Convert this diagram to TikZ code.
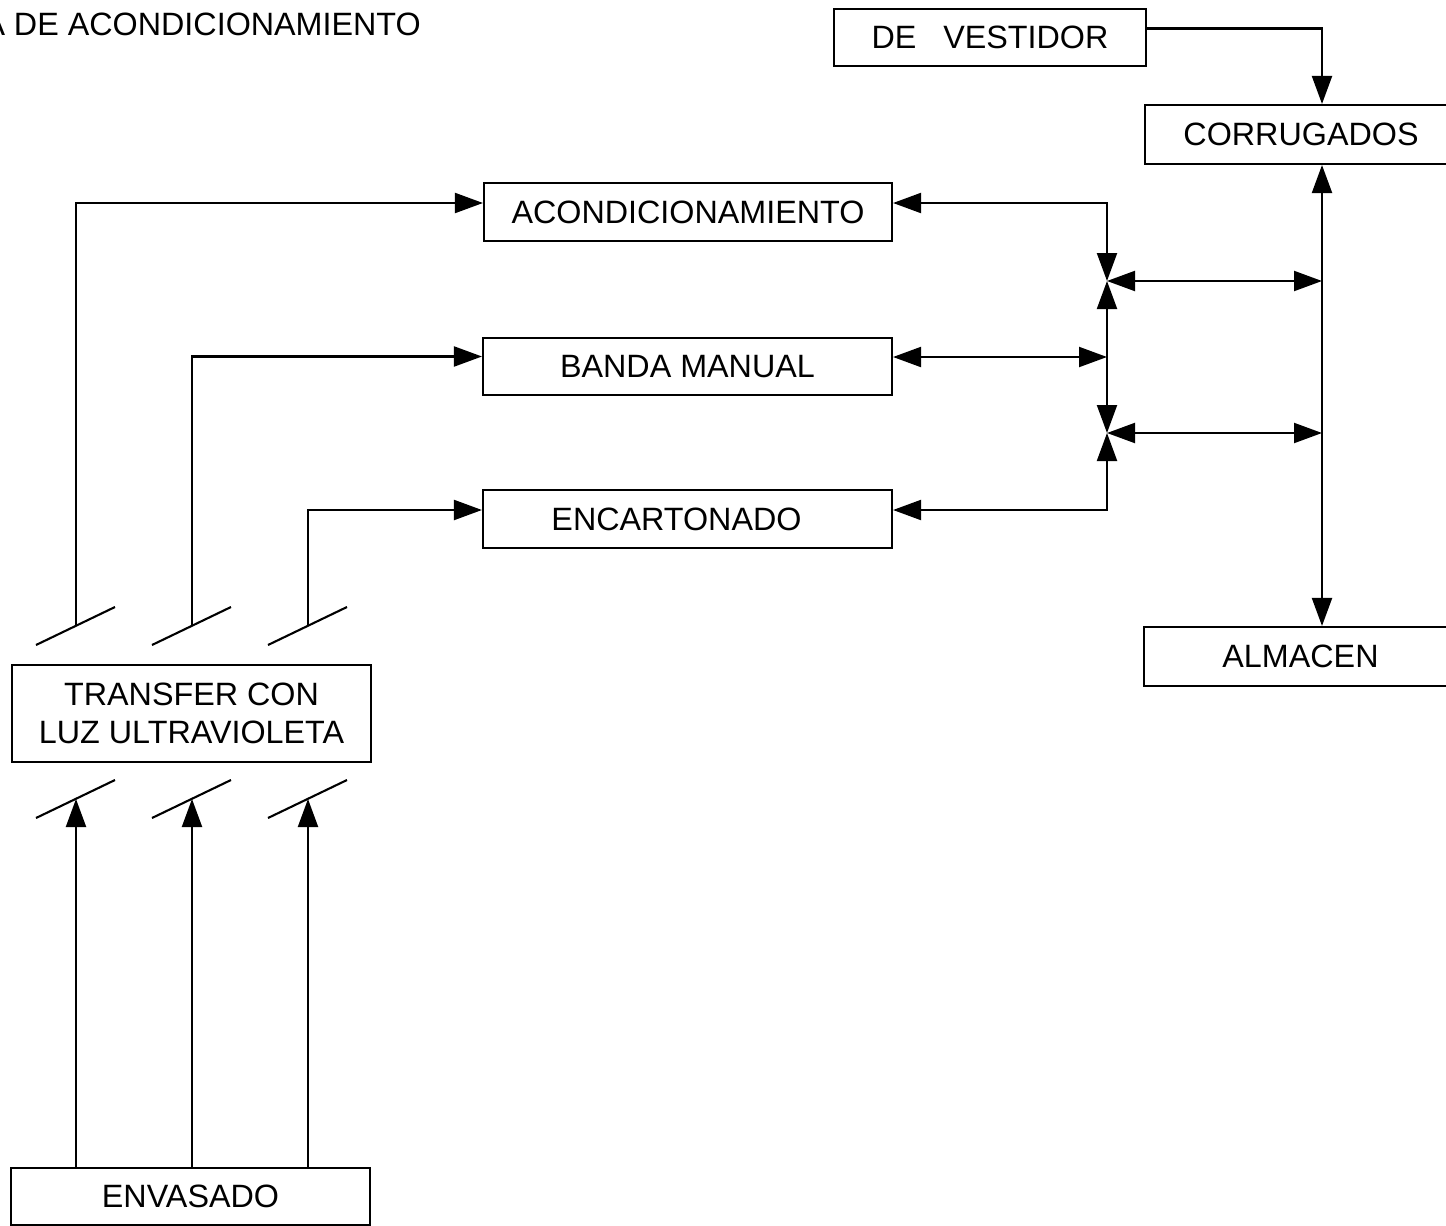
\documentclass[tikz,border=0pt]{standalone}
\usepackage{fontspec}
\setmainfont{Liberation Sans}
\usetikzlibrary{arrows.meta}
\begin{document}
\begin{tikzpicture}[x=1pt,y=-1pt,
  box/.style={draw, line width=2.1pt, inner sep=0pt, align=center,
    font=\fontsize{32.3}{38}\selectfont},
  tip/.tip={Triangle[length=28pt,width=20pt]},
  flow/.style={line width=2.1pt, -tip},
  both/.style={line width=2.1pt, tip-tip},
  brk/.style={line width=2.1pt}]
\useasboundingbox[fill=white] (0,0) rectangle (1446,1226);

% title
\node[font=\fontsize{32.3}{38}\selectfont, anchor=base east, inner sep=0pt] (title)
  at (421,35) {A DE ACONDICIONAMIENTO};

% boxes
\node[box, minimum width=312pt, minimum height=57pt] (vest)   at (990,37.5)   {DE~~~VESTIDOR};
\node[box, minimum width=312pt, minimum height=59pt] (corr)   at (1301,134.5) {CORRUGADOS};
\node[box, minimum width=408pt, minimum height=58pt] (acond)  at (688,212)    {ACONDICIONAMIENTO};
\node[box, minimum width=409pt, minimum height=57pt] (banda)  at (687.5,366.5){BANDA MANUAL};
\node[box, minimum width=409pt, minimum height=58pt] (encart) at (687.5,519)  {ENCARTONADO\hspace{22pt}};
\node[box, minimum width=313pt, minimum height=59pt] (alm)    at (1300.5,656.5){ALMACEN};
\node[box, minimum width=359pt, minimum height=97pt] (trans)  at (191.5,713.5){TRANSFER CON\\LUZ ULTRAVIOLETA};
\node[box, minimum width=359pt, minimum height=57pt] (env)    at (190.5,1196.5){ENVASADO};

% reference points
\coordinate (sp) at (1322,0);
\coordinate (j1) at (1107,281);
\coordinate (jm) at (1107,357);
\coordinate (j2) at (1107,433);
\coordinate (s1) at (76,626);
\coordinate (s2) at (192,626);
\coordinate (s3) at (308,626);
\coordinate (t1) at (76,799);
\coordinate (t2) at (192,799);
\coordinate (t3) at (308,799);

% right side
\draw[flow] ([yshift=9pt]vest.east) -| (corr.north -| sp);
\draw[both] (corr.south -| sp) -- (alm.north -| sp);
\draw[both] (j1) -- (j1 -| sp);
\draw[both] (j2) -- (j2 -| sp);
\draw[both] ([yshift=9pt]acond.east) -| (j1);
\draw[both] ([yshift=9.5pt]banda.east) -- (jm);
\draw[flow] (jm) -- (j1);
\draw[flow] (jm) -- (j2);
\draw[both] ([yshift=9pt]encart.east) -| (j2);

% left side feeds
\draw[flow] (s1) |- ([yshift=9pt]acond.west);
\draw[flow] (s2) |- ([yshift=10pt]banda.west);
\draw[flow] (s3) |- ([yshift=9pt]encart.west);
\foreach \p in {s1,s2,s3,t1,t2,t3}
  \draw[brk] (\p) ++(-40,19) -- ++(79,-38);
\draw[flow] (env.north -| t1) -- (t1);
\draw[flow] (env.north -| t2) -- (t2);
\draw[flow] (env.north -| t3) -- (t3);
\end{tikzpicture}
\end{document}
